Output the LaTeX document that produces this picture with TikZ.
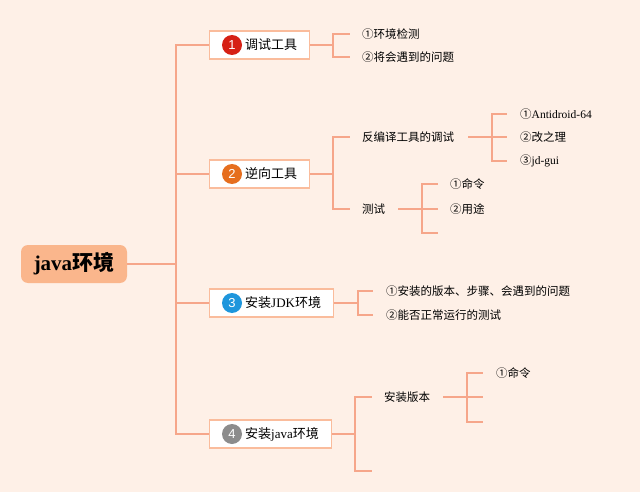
\documentclass[tikz,border=0pt]{standalone}
\usepackage{fontspec}
\setmainfont{Liberation Serif}
\newfontfamily\cjk{Noto Sans CJK SC}
\newfontfamily\badgefont{Liberation Sans}
\definecolor{bgc}{RGB}{254,240,231}
\definecolor{linec}{RGB}{246,166,138}
\definecolor{boxc}{RGB}{250,188,156}
\definecolor{rootc}{RGB}{250,182,140}
\definecolor{b1c}{RGB}{214,32,20}
\definecolor{b2c}{RGB}{230,110,30}
\definecolor{b3c}{RGB}{30,150,220}
\definecolor{b4c}{RGB}{140,140,140}
\tikzset{
  link/.style={draw=linec, line width=1.3pt},
  topic/.style={draw=boxc, line width=1.3pt, fill=white, minimum height=28pt, inner sep=0pt, anchor=west},
  badge/.style={circle, fill=#1, text=white, minimum size=20pt, inner sep=0pt, font=\badgefont\fontsize{13}{13}\selectfont},
  ttext/.style={anchor=west, inner sep=0pt, font=\cjk\fontsize{13}{15}\selectfont},
  leaf/.style={anchor=west, inner sep=0pt, font=\cjk\fontsize{11.5}{13}\selectfont},
  rootbox/.style={fill=rootc, rounded corners=7pt, minimum width=106pt, minimum height=38pt, inner sep=0pt}
}
\begin{document}
\begin{tikzpicture}[x=1pt,y=-1pt]
\fill[bgc] (0,0) rectangle (640,492);
\useasboundingbox (0,0) rectangle (640,492);
% root
\node[rootbox] (root) at (74,264) {\fontsize{21}{23}\selectfont\bfseries java{\cjk\bfseries 环境}};
\coordinate (j0) at (176,264);
% topics
\node[topic, minimum width=100pt] (t1) at (209,45) {};
\node[topic, minimum width=100pt] (t2) at (209,174) {};
\node[topic, minimum width=124pt] (t3) at (209,303) {};
\node[topic, minimum width=122pt] (t4) at (209,434) {};
\node[badge=b1c] (k1) at (232,45) {1};
\node[badge=b2c] (k2) at (232,174) {2};
\node[badge=b3c] (k3) at (232,303) {3};
\node[badge=b4c] (k4) at (232,434) {4};
\node[ttext] (x1) at (245,45) {调试工具};
\node[ttext] (x2) at (245,174) {逆向工具};
\node[ttext] (x3) at (245,303) {安装{\rmfamily JDK}环境};
\node[ttext] (x4) at (245,434) {安装{\rmfamily java}环境};
\draw[link] (root.east) -- (j0);
\draw[link] (j0) |- (t1.west);
\draw[link] (j0) |- (t2.west);
\draw[link] (j0) |- (t3.west);
\draw[link] (j0) |- (t4.west);
% branch 1
\coordinate (j1) at (333,45);
\node[leaf] (l11) at (362,34) {①环境检测};
\node[leaf] (l12) at (362,57) {②将会遇到的问题};
\draw[link] (t1.east) -- (j1);
\draw[link] (j1) |- ([xshift=-12pt]l11.west);
\draw[link] (j1) |- ([xshift=-12pt]l12.west);
% branch 2
\coordinate (j2) at (333,174);
\node[leaf] (l21) at (362,137) {反编译工具的调试};
\node[leaf] (l22) at (362,209) {测试};
\draw[link] (t2.east) -- (j2);
\draw[link] (j2) |- ([xshift=-12pt]l21.west);
\draw[link] (j2) |- ([xshift=-12pt]l22.west);
\coordinate (j21) at (492,137);
\node[leaf] (a1) at (520,114) {①{\rmfamily Antidroid-64}};
\node[leaf] (a2) at (520,137) {②改之理};
\node[leaf] (a3) at (520,161) {③{\rmfamily jd-gui}};
\draw[link] ([xshift=14pt]l21.east) -- (j21);
\draw[link] (j21) |- ([xshift=-13pt]a1.west);
\draw[link] (j21) |- ([xshift=-13pt]a2.west);
\draw[link] (j21) |- ([xshift=-13pt]a3.west);
\coordinate (j22) at (422,209);
\node[leaf] (b1) at (450,184) {①命令};
\node[leaf] (b2) at (450,209) {②用途};
\coordinate (b3) at (438,233);
\draw[link] ([xshift=13pt]l22.east) -- (j22);
\draw[link] (j22) |- ([xshift=-12pt]b1.west);
\draw[link] (j22) |- ([xshift=-12pt]b2.west);
\draw[link] (j22) |- (b3);
% branch 3
\coordinate (j3) at (358,303);
\node[leaf] (c1) at (386,291) {①安装的版本、步骤、会遇到的问题};
\node[leaf] (c2) at (386,315) {②能否正常运行的测试};
\draw[link] (t3.east) -- (j3);
\draw[link] (j3) |- ([xshift=-13pt]c1.west);
\draw[link] (j3) |- ([xshift=-13pt]c2.west);
% branch 4
\coordinate (j4) at (355,434);
\node[leaf] (d1) at (384,397) {安装版本};
\coordinate (d2) at (372,471);
\draw[link] (t4.east) -- (j4);
\draw[link] (j4) |- ([xshift=-12pt]d1.west);
\draw[link] (j4) |- (d2);
\coordinate (j41) at (467,397);
\node[leaf] (e1) at (496,373) {①命令};
\coordinate (e2) at (483,397);
\coordinate (e3) at (483,422);
\draw[link] ([xshift=13pt]d1.east) -- (j41);
\draw[link] (j41) |- ([xshift=-13pt]e1.west);
\draw[link] (j41) |- (e2);
\draw[link] (j41) |- (e3);
\end{tikzpicture}
\end{document}
